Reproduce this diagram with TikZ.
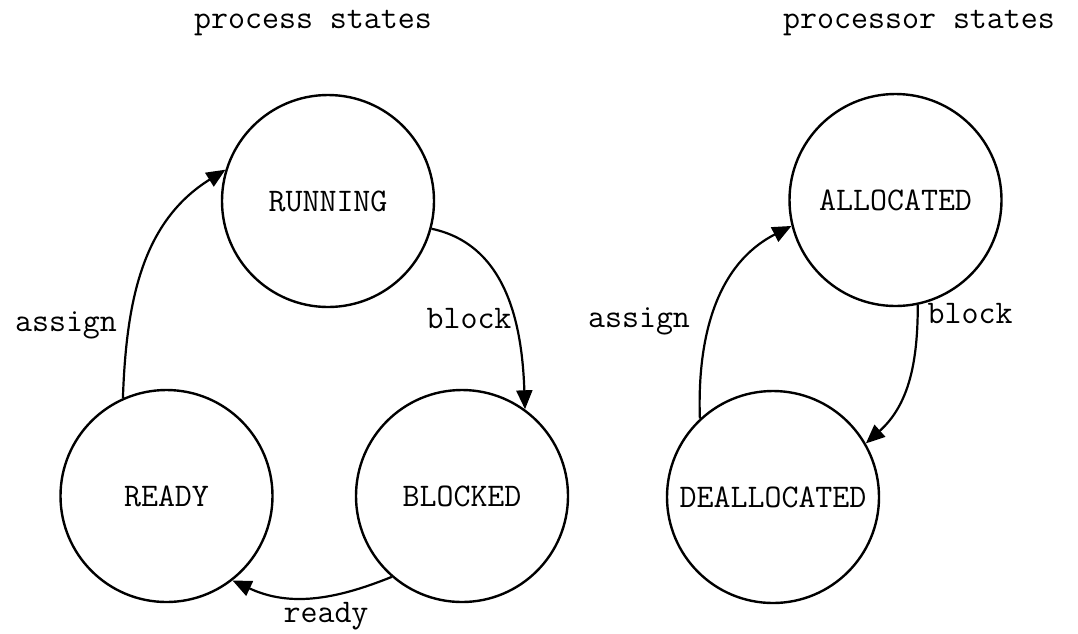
\documentclass[tikz,border=0pt]{standalone}
\usepackage{fontspec}
\usetikzlibrary{arrows.meta}
\begin{document}
\begin{tikzpicture}[x=1pt,y=-1pt,
  every node/.style={font=\ttfamily\fontsize{33}{38}\selectfont},
  state/.style={draw, circle, line width=2.4pt, inner sep=0pt, minimum size=212pt},
  lbl/.style={anchor=base, inner sep=0pt},
  arr/.style={line width=2.2pt, -{Triangle[length=19pt,width=16pt]}}]
\useasboundingbox (0,0) rectangle (1078,633);
% titles
\node[lbl] (t1) at (313,28) {process states};
\node[lbl] (t2) at (919,28) {processor states};
% states
\node[state] (run) at (328,201) {RUNNING};
\node[state] (ready) at (166.5,496) {READY};
\node[state] (blk) at (462,496) {BLOCKED};
\node[state] (alloc) at (895.5,200) {ALLOCATED};
\node[state] (dealloc) at (773,497) {DEALLOCATED};
% connectors
\draw[arr] (ready.114) to[out=88,in=212] (run.163);
\draw[arr] (run.-15) to[out=-12,in=92] (blk.54);
\draw[arr] (blk.229) to[out=202,in=-25] (ready.-52);
\draw[arr] (dealloc.133) to[out=92,in=207] (alloc.-166);
\draw[arr] (alloc.-78) to[out=-90,in=42] (dealloc.30);
% labels
\node[lbl] (la1) at (66,331) {assign};
\node[lbl] (lb1) at (469,328) {block};
\node[lbl] (lr1) at (326,622) {ready};
\node[lbl] (la2) at (639,327) {assign};
\node[lbl] (lb2) at (970,323) {block};
\end{tikzpicture}
\end{document}
